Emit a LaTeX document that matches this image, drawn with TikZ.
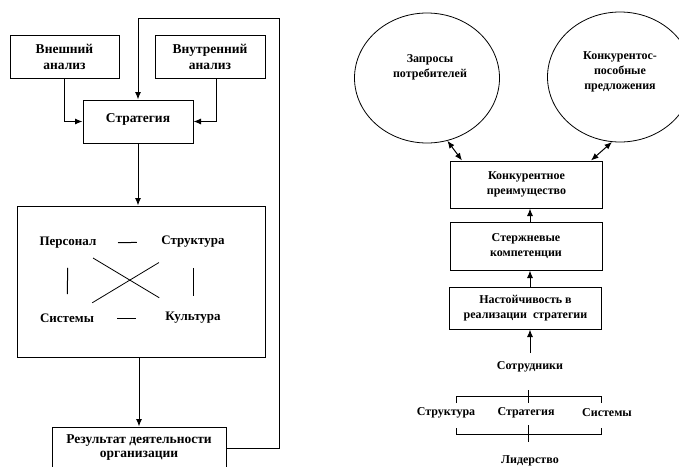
\documentclass[tikz,border=0pt]{standalone}
\usepackage{fontspec}
\setmainfont{Liberation Serif}
\usepackage{tikz}
\usetikzlibrary{calc,positioning,arrows,arrows.meta,shapes}

\begin{document}
\begin{tikzpicture}[x=1pt, y=-1pt, >={Latex[length=7.5pt,width=6pt]}, line width=1pt]
  \useasboundingbox (0,0) rectangle (679,466);

  % ---- Styles ---------------------------------------------------
  \tikzstyle{box}=[draw, rectangle, inner sep=2pt, align=center,
                   font=\fontsize{13.5}{16}\selectfont\bfseries]
  \tikzstyle{rbox}=[draw, rectangle, inner sep=2pt, align=center,
                    minimum width=152pt,
                    font=\fontsize{12}{15}\selectfont\bfseries]
  \tikzstyle{circ}=[draw, ellipse, line width=0.8pt,
                    minimum width=145pt, minimum height=130pt]
  \tikzstyle{lbl}=[inner sep=2pt, font=\fontsize{13}{15}\selectfont\bfseries]
  \tikzstyle{rlbl}=[inner sep=2pt, align=center,
                    font=\fontsize{12}{15}\selectfont\bfseries]

  % ---- Left scheme: analysis -> strategy -> 7S -> result --------
  \node[box, minimum width=109pt, minimum height=43pt] (vnesh)
        at (64.5,56.5) {Внешний\\анализ};
  \node[box, minimum width=110pt, minimum height=43pt] (vnutr)
        at (210,56.5) {Внутренний\\анализ};
  \node[box, minimum width=110pt, minimum height=43pt, text depth=7pt] (strat)
        at (138,121.5) {Стратегия};
  \node[draw, minimum width=248pt, minimum height=151pt] (sem)
        at (141,281.5) {};
  \node[box, minimum width=174pt, minimum height=42pt, text height=21pt,
        font=\fontsize{13.5}{13.5}\selectfont\bfseries] (res)
        at (139,448) {Результат деятельности\\организации};
  \coordinate (loop) at (279,18);

  \draw[->] (vnesh.south) |- (strat.west);
  \draw[->] ([xshift=6pt]vnutr.south) |- (strat.east);
  \draw[->] (strat.south) -- (strat.south |- sem.north);
  \draw[->] (sem.south -| res.north) -- (res.north);
  \draw[->] (res.east) -| (loop) -| (strat.north);

  % ---- Inside the big box ----------------------------------------
  \node[lbl] (pers) at (68,243)  {Персонал};
  \node[lbl] (strk) at (193,242) {Структура};
  \node[lbl] (sist) at (67,318)  {Системы};
  \node[lbl] (kult) at (193,318) {Культура};

  \draw ($(pers)!0.4!(strk)$) -- ($(pers)!0.55!(strk)$);
  \draw ($(sist)!0.4!(kult)$) -- ($(sist)!0.55!(kult)$);
  \draw ($(pers)!0.33!(sist)$) -- ($(pers)!0.68!(sist)$);
  \draw ($(strk)!0.34!(kult)$) -- ($(strk)!0.71!(kult)$);
  \draw[line width=0.8pt] ($(pers)!0.2!(kult)$) -- ($(pers)!0.73!(kult)$);
  \draw[line width=0.8pt] ($(sist)!0.2!(strk)$) -- ($(sist)!0.73!(strk)$);

  % ---- Right scheme: circles and the chain of boxes -------------
  \node[circ] (zapr)  at (427,78) {};
  \node[rlbl] (zaprt) at (430,67) {Запросы\\потребителей};
  \node[circ] (konks)  at (620,77) {};
  \node[rlbl] (konkst) at (620,72) {Конкурентос-\\пособные\\предложения};

  \node[rbox, minimum height=47pt] (konk)   at (526.5,184.5) {Конкурентное\\преимущество};
  \node[rbox, minimum height=48pt] (sterzh) at (526,246) {Стержневые\\компетенции};
  \node[rbox, minimum height=42pt] (nast)   at (525.5,308) {Настойчивость в\\реализации~~стратегии};

  \node[rlbl] (sotr)   at (530,367) {Сотрудники};
  \node[rlbl] (strk2)  at (446,413) {Структура};
  \node[rlbl] (strat2) at (526,413) {Стратегия};
  \node[rlbl] (sist2)  at (607,413) {Системы};
  \node[rlbl] (lid)    at (530,461) {Лидерство};

  \draw[<->] (zapr.-72) -- ([xshift=12pt]konk.north west);
  \draw[<->] (konks.-97) -- ([xshift=-12pt]konk.north east);
  \draw[->] (sterzh.north -| sotr) -- (konk.south -| sotr);
  \draw[->] (nast.north -| sotr) -- (sterzh.south -| sotr);
  \draw[->, shorten <=6pt] (sotr.north) -- (nast.south -| sotr);

  % ---- Brackets round the middle row -----------------------------
  \draw (456,403) -- (456,396) -- (601,396) -- (601,403);
  \draw (528,390) -- (528,403);
  \draw (456,428) -- (456,434) -- (601,434) -- (601,428);
  \draw (528,425) -- (528,442);

\end{tikzpicture}
\end{document}
